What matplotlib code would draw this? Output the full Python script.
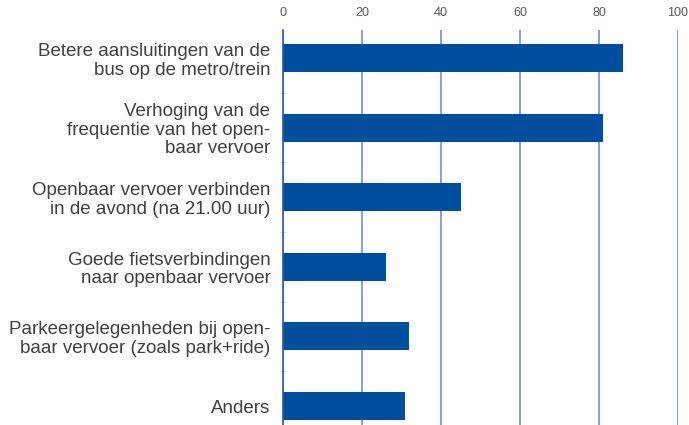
import matplotlib.pyplot as plt
import numpy as np

# Maatregelen en percentages
maatregelen = [
    'Betere aansluitingen van de\nbus op de metro/trein',
    'Verhoging van de\nfrequentie van het open-\nbaar vervoer',
    'Openbaar vervoer verbinden\nin de avond (na 21.00 uur)',
    'Goede fietsverbindingen\nnaar openbaar vervoer',
    'Parkeergelegenheden bij open-\nbaar vervoer (zoals park+ride)',
    'Anders',
]
percentages = [86, 81, 45, 26, 32, 31]
x_ticks = [0, 20, 40, 60, 80, 100]

plt.rcParams['font.family'] = ['Liberation Sans', 'DejaVu Sans']

fig = plt.figure(figsize=(6.89, 4.25), dpi=100)
ax = fig.add_axes([283 / 689, 0, 395 / 689, 1 - 30 / 425])

pos = np.arange(len(maatregelen))
ax.barh(pos, percentages, height=0.4, color='#004f9f', zorder=3)

ax.set_xlim(0, 100)
ax.set_ylim(5 + 19 / 69.6, -28 / 69.6)

ax.xaxis.tick_top()
ax.set_xticks(x_ticks)
ax.tick_params(axis='x', length=0, pad=8, labelsize=9, labelcolor='#595959')
ax.grid(axis='x', color='#6a96d0', linewidth=1.2, zorder=1)

ax.set_yticks(pos)
ax.set_yticklabels(maatregelen, fontsize=13.5, color='#404040', linespacing=1.12)
ax.tick_params(axis='y', which='major', length=0, pad=9)
ax.set_yticks(pos[:-1] + 0.5, minor=True)
ax.tick_params(axis='y', which='minor', length=4, direction='inout', color='#d0d0d0')

for s in ['top', 'right', 'bottom']:
    ax.spines[s].set_visible(False)
ax.spines['left'].set_color('#1f5fb0')
ax.spines['left'].set_linewidth(1.2)
ax.spines['left'].set_zorder(4)

plt.savefig('out.png', dpi=100)
